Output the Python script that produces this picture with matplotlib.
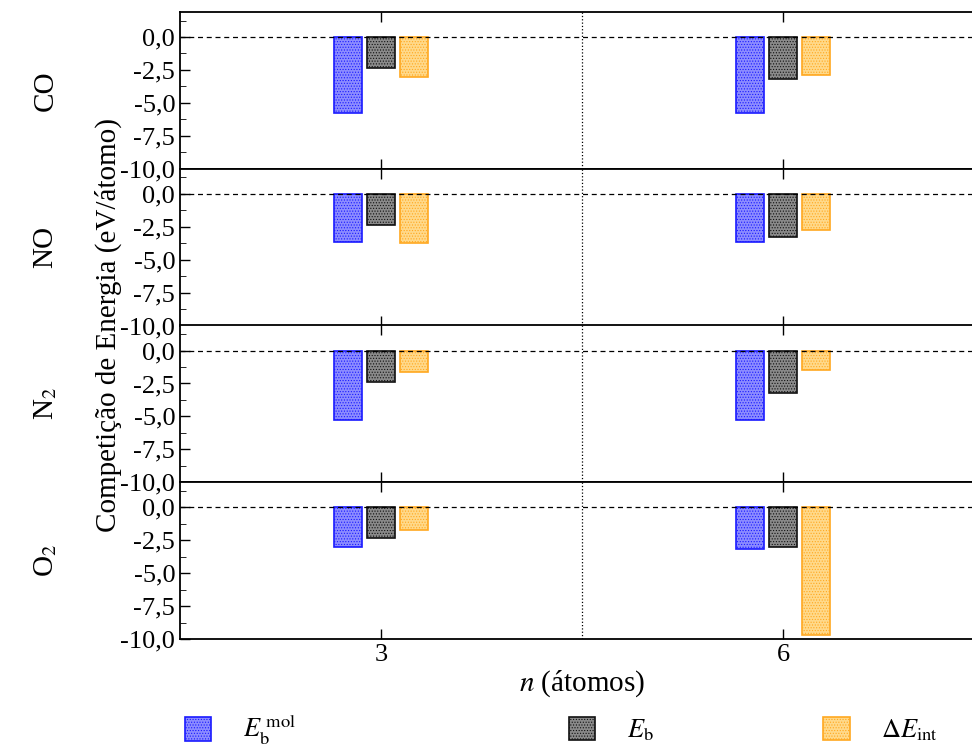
import numpy as np
import matplotlib.pyplot as plt
from matplotlib.ticker import MultipleLocator, FuncFormatter

plt.rcParams['font.family'] = 'Liberation Serif'
plt.rcParams['mathtext.fontset'] = 'stix'
plt.rcParams['hatch.linewidth'] = 0.5

n_atoms = ['3', '6']
molecules = ['CO', 'NO', r'N$_2$', r'O$_2$']

# energies (eV/atom), rows = molecules, cols = n
eb_mol = [[-5.8, -5.8],
          [-3.65, -3.65],
          [-5.25, -5.25],
          [-3.05, -3.2]]
eb = [[-2.35, -3.2],
      [-2.4, -3.25],
      [-2.4, -3.25],
      [-2.35, -3.05]]
de_int = [[-3.05, -2.9],
          [-3.75, -2.75],
          [-1.65, -1.45],
          [-1.75, -9.7]]

series = [(eb_mol, '#8c8cff', '#1a1aff', r'$E_{\rm b}^{\;\rm mol}$'),
          (eb, '#8a8a8a', '#111111', r'$E_{\rm b}$'),
          (de_int, '#ffd98a', '#ffa820', r'$\Delta E_{\rm int}$')]
offsets = [-0.083, 0.0, 0.083]
width = 0.07

fig = plt.figure(figsize=(9.72, 7.51), dpi=100)
left, right = 180 / 972, 984 / 972
top, bottom = 1 - 12 / 751, 1 - 639 / 751
h = (top - bottom) / 4
x = np.arange(len(n_atoms))

fmt = FuncFormatter(lambda v, p: ('%.1f' % v).replace('.', ','))
axes = []
for i, mol in enumerate(molecules):
    ax = fig.add_axes([left, top - (i + 1) * h, right - left, h])
    for (vals, fc, ec, lab), off in zip(series, offsets):
        ax.bar(x + off, vals[i], width, color=fc, edgecolor=ec, hatch='......',
               linewidth=1.2, label=lab)
    ax.axhline(0, color='black', ls='--', lw=0.9, dashes=(4, 3))
    ax.axvline(0.5, color='black', ls=':', lw=0.9)
    ax.set_xlim(-0.5, 1.5)
    ax.set_ylim(-10, 1.9)
    ax.yaxis.set_major_locator(MultipleLocator(2.5))
    ax.yaxis.set_minor_locator(MultipleLocator(1.25))
    ax.yaxis.set_major_formatter(fmt)
    ax.set_xticks(x)
    ax.set_xticklabels(n_atoms if i == 3 else [])
    ax.tick_params(which='both', direction='in', top=True, right=True, labelsize=19)
    ax.tick_params(which='major', length=7, width=1)
    ax.tick_params(which='minor', length=4)
    for s in ax.spines.values():
        s.set_linewidth(1.3)
    fig.text(0.047, top - (i + 0.5) * h, mol, rotation=90, fontsize=21,
             ha='center', va='center')
    axes.append(ax)

axes[-1].set_xlabel(r'$n$ (átomos)', fontsize=21, labelpad=2)
fig.text(0.111, (top + bottom) / 2, 'Competição de Energia (eV/átomo)', rotation=90,
         fontsize=21, ha='center', va='center')

# one legend entry per slot, spread along the bottom
handles, labels = axes[0].get_legend_handles_labels()
for hnd, lab, xpos in zip(handles, labels, [0.19, 0.585, 0.847]):
    fig.legend([hnd], [lab], loc='center left', bbox_to_anchor=(xpos, 0.028),
               frameon=False, fontsize=19, handlelength=1.0, handleheight=1.0,
               handletextpad=1.2, borderaxespad=0, borderpad=0)

fig.savefig('out.png', dpi=100)
